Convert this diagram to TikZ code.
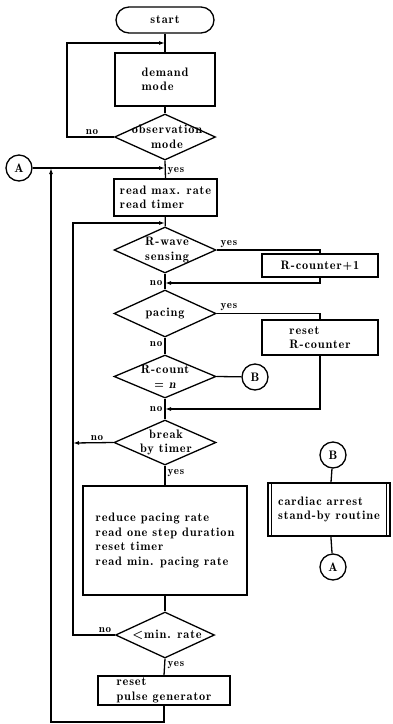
\documentclass[tikz,border=0pt]{standalone}
\usepackage{fontspec}
\setmainfont{lmromandemi10-regular.otf}[BoldFont=lmromandemi10-regular.otf,ItalicFont=lmromandemi10-oblique.otf,BoldItalicFont=lmromandemi10-oblique.otf,LetterSpace=7]
\usetikzlibrary{shapes.geometric,arrows.meta}
\begin{document}
\begin{tikzpicture}[x=1pt,y=-1pt,line width=1.3pt,
  every node/.style={font=\fontsize{12.3}{14.5}\selectfont},
  sz/.style 2 args={minimum width=#1,minimum height=#2},
  box/.style={draw,rectangle,inner sep=0pt,align=left},
  term/.style={draw,rectangle,rounded corners=13pt,inner sep=0pt},
  dia/.style={draw,diamond,inner sep=0pt},
  conn/.style={draw,circle,minimum size=26pt,inner sep=0pt},
  txt/.style={inner sep=0pt,align=center},
  lbl/.style={inner sep=1pt,font=\fontsize{11}{12}\selectfont},
  arr/.style={-{Latex[length=6pt,width=4pt]}}]
\useasboundingbox (0,0) rectangle (392,724);
% main column
\node[term,sz={98pt}{26pt}] (start) at (165,20) {start};
\node[box,sz={100pt}{53pt}] (demand) at (165,79.5) {demand\\mode};
\node[dia,sz={101pt}{46pt}] (obs) at (165,137) {};
\node[txt] (obst) at (167,137) {observation\\mode};
\node[conn] (A1) at (19,168) {A};
\node[box,sz={103pt}{37pt}] (readmax) at (165.5,197.5) {read max. rate\\read timer};
\node[dia,sz={102pt}{46pt}] (rwave) at (165,250) {};
\node[txt] (rwavet) at (167,250) {R-wave\\sensing};
\node[box,sz={116pt}{23pt},align=center] (rcnt) at (320,265.5) {R-counter+1};
\node[dia,sz={102pt}{47pt}] (pacing) at (165,313.5) {};
\node[txt] (pacingt) at (165,313.5) {pacing};
\node[box,sz={116pt}{35pt}] (resetR) at (320,337.5) {reset\\R-counter};
\node[dia,sz={102pt}{43pt}] (rcount) at (165,376.5) {};
\node[txt] (rcountt) at (165,377) {R-count\\= {\itshape n}};
\node[conn] (B1) at (255,377) {B};
\node[dia,sz={102pt}{45pt}] (brk) at (165,442.5) {};
\node[txt] (brkt) at (166,442.5) {break\\by timer};
\node[box,sz={164pt}{109pt}] (big) at (165,540.5) {reduce pacing rate\\read one step duration\\reset timer\\read min. pacing rate};
\node[dia,sz={99pt}{46pt}] (minr) at (165,635) {};
\node[txt] (minrt) at (167,635) {<min. rate};
\node[box,sz={132pt}{29pt}] (pulse) at (164,690.5) {reset\\pulse generator};
% right column
\node[conn] (B2) at (333,455) {B};
\node[box,sz={122pt}{53pt}] (card) at (329,509.5) {cardiac arrest\\stand-by routine};
\draw ([xshift=4pt]card.north west) -- ([xshift=4pt]card.south west);
\draw ([xshift=-4pt]card.north east) -- ([xshift=-4pt]card.south east);
\node[conn] (A2) at (333,567) {A};
% coordinates
\coordinate (j0) at (165,43);
\coordinate (cN) at (67,43);
\coordinate (jA) at (165,168);
\coordinate (cO) at (51,168);
\coordinate (cC) at (51,722);
\coordinate (j2) at (165,223);
\coordinate (cL1) at (73,223);
\coordinate (cL2) at (73,443);
\coordinate (j1) at (165,283);
\coordinate (j3) at (165,409);
% connectors
\draw (start) -- (demand);
\draw (demand) -- (obs);
\draw[arr] (obs.west) -| (cN) -- (j0);
\draw (obs.south) -- (readmax.north);
\draw[arr] (A1) -- (jA);
\draw (readmax) -- (rwave);
\draw (rwave.east) -| (rcnt.north);
\draw[arr] (rcnt.south) |- (j1);
\draw (rwave.south) -- (pacing.north);
\draw (pacing.east) -| (resetR.north);
\draw[arr] (resetR.south) |- (j3);
\draw (pacing.south) -- (rcount.north);
\draw (rcount.east) -- (B1);
\draw (rcount.south) -- (brk.north);
\draw[arr] (brk.west) -- (cL2);
\draw (brk.south) -- (big.north);
\draw (big.south) -- (minr.north);
\draw[arr] (minr.west) -| (cL1) -- (j2);
\draw (minr.south) -- (pulse.north);
\draw[arr] (pulse.south) |- (cC) -- (cO);
\draw (B2) -- (card);
\draw (card) -- (A2);
% labels
\node[lbl,anchor=south] (l1) at (92,136) {no};
\node[lbl,anchor=west] (l2) at (166,171) {yes};
\node[lbl,anchor=south west] (l3) at (219,249) {yes};
\node[lbl,anchor=east] (l4) at (164,283) {no};
\node[lbl,anchor=south west] (l5) at (219,312) {yes};
\node[lbl,anchor=east] (l6) at (164,344) {no};
\node[lbl,anchor=east] (l7) at (164,409) {no};
\node[lbl,anchor=south] (l8) at (97,442) {no};
\node[lbl,anchor=west] (l9) at (166,473) {yes};
\node[lbl,anchor=south] (l10) at (105,634) {no};
\node[lbl,anchor=west] (l11) at (166,665) {yes};
\end{tikzpicture}
\end{document}
